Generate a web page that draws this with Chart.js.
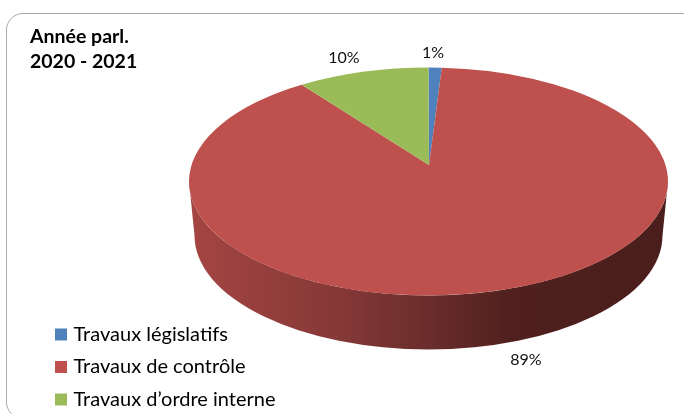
<!DOCTYPE html>
<html lang="fr">
<head>
<meta charset="utf-8">
<title>Année parl. 2020 - 2021</title>
<script src="https://cdn.jsdelivr.net/npm/chart.js@4"></script>
<style>
    html, body { margin: 0; padding: 0; background: #fff; }
    #wrap { position: relative; width: 684px; height: 414px; overflow: hidden; }
    #frame { position: absolute; left: 6px; top: 13px; width: 692px; height: 406px; border: 1px solid #a9a9a9; border-radius: 17px; box-sizing: border-box; }
    canvas { position: absolute; left: 0; top: 0; }
</style>
</head>
<body>
<div id="wrap">
    <div id="frame"></div>
    <canvas id="pieChart" width="684" height="414"></canvas>
</div>
<script>
// Data
const titleLines = ['Année parl.', '2020 - 2021'];
const categories = ['Travaux législatifs', 'Travaux de contrôle', 'Travaux d’ordre interne'];
const values = [1, 89, 10];
const colors = ['#4F81BD', '#BE504D', '#9BBB59'];

// Where the percent labels sit, in slice order
const labelSpots = [[433, 53], [526, 360], [344, 58]];

// Tilted pie look: top face ellipse, off-centre apex, wall below
const face = { cx: 428.5, cy: 181.5, rx: 239.5, ry: 114, apexX: 429, apexY: 165, squeeze: 0.882 };
const base = { cx: 428.5, cy: 235.5, rx: 234, ry: 114 };

// Slice angle from Chart.js -> angle on the drawn ellipse (far side looks compressed)
function rimAngle(a) {
    const t = a + Math.PI / 2;
    return 2 * Math.atan2(face.squeeze * Math.sin(t / 2), Math.cos(t / 2)) - Math.PI / 2;
}

const tiltedPie = {
    id: 'tiltedPie',
    afterLayout(chart) {
        // legend sits lower than the layout allows
        chart.legend.bottom += 8;
    },
    beforeDatasetsDraw(chart) {
        const ctx = chart.ctx;
        const arcs = chart.getDatasetMeta(0).data;

        // side wall
        const wall = ctx.createLinearGradient(189, 0, 668, 0);
        wall.addColorStop(0, '#A54543');
        wall.addColorStop(0.32, '#843836');
        wall.addColorStop(0.5, '#6A2D2B');
        wall.addColorStop(0.68, '#4F201E');
        wall.addColorStop(1, '#4A1E1C');
        ctx.save();
        ctx.beginPath();
        ctx.ellipse(face.cx, face.cy, face.rx, face.ry, 0, Math.PI, 0, true);
        ctx.lineTo(base.cx + base.rx, base.cy);
        ctx.ellipse(base.cx, base.cy, base.rx, base.ry, 0, 0, Math.PI, false);
        ctx.closePath();
        ctx.fillStyle = wall;
        ctx.fill();

        // top face, one wedge per slice
        arcs.forEach((arc, i) => {
            ctx.beginPath();
            ctx.moveTo(face.apexX, face.apexY);
            ctx.ellipse(face.cx, face.cy, face.rx, face.ry, 0, rimAngle(arc.startAngle), rimAngle(arc.endAngle));
            ctx.closePath();
            ctx.fillStyle = colors[i];
            ctx.fill();
        });

        // percent labels
        ctx.fillStyle = '#111';
        ctx.font = '16px Lato';
        ctx.textAlign = 'center';
        ctx.textBaseline = 'middle';
        values.forEach((v, i) => ctx.fillText(v + '%', labelSpots[i][0], labelSpots[i][1]));

        // title, top left of the frame
        ctx.fillStyle = '#000';
        ctx.font = 'bold 19.5px Lato';
        ctx.textAlign = 'left';
        titleLines.forEach((line, i) => ctx.fillText(line, 30, 37 + i * 25));
        ctx.restore();
        return false;
    }
};

new Chart(document.getElementById('pieChart'), {
    type: 'pie',
    data: {
        labels: categories,
        datasets: [{
            data: values,
            backgroundColor: colors,
            borderWidth: 0
        }]
    },
    options: {
        responsive: false,
        animation: false,
        layout: { padding: { left: 46 } },
        plugins: {
            tooltip: { enabled: false },
            legend: {
                position: 'chartArea',
                align: 'end',
                labels: {
                    color: '#000',
                    font: { family: 'Lato', size: 20 },
                    padding: 12.5,
                    boxWidth: 5,
                    boxHeight: 5,
                    // thick same-colour stroke gives the 12px square with a tight text gap
                    generateLabels(chart) {
                        return Chart.overrides.pie.plugins.legend.labels.generateLabels(chart).map(item => {
                            item.strokeStyle = item.fillStyle;
                            item.lineWidth = 7;
                            return item;
                        });
                    }
                }
            }
        }
    },
    plugins: [tiltedPie]
});
</script>
</body>
</html>
